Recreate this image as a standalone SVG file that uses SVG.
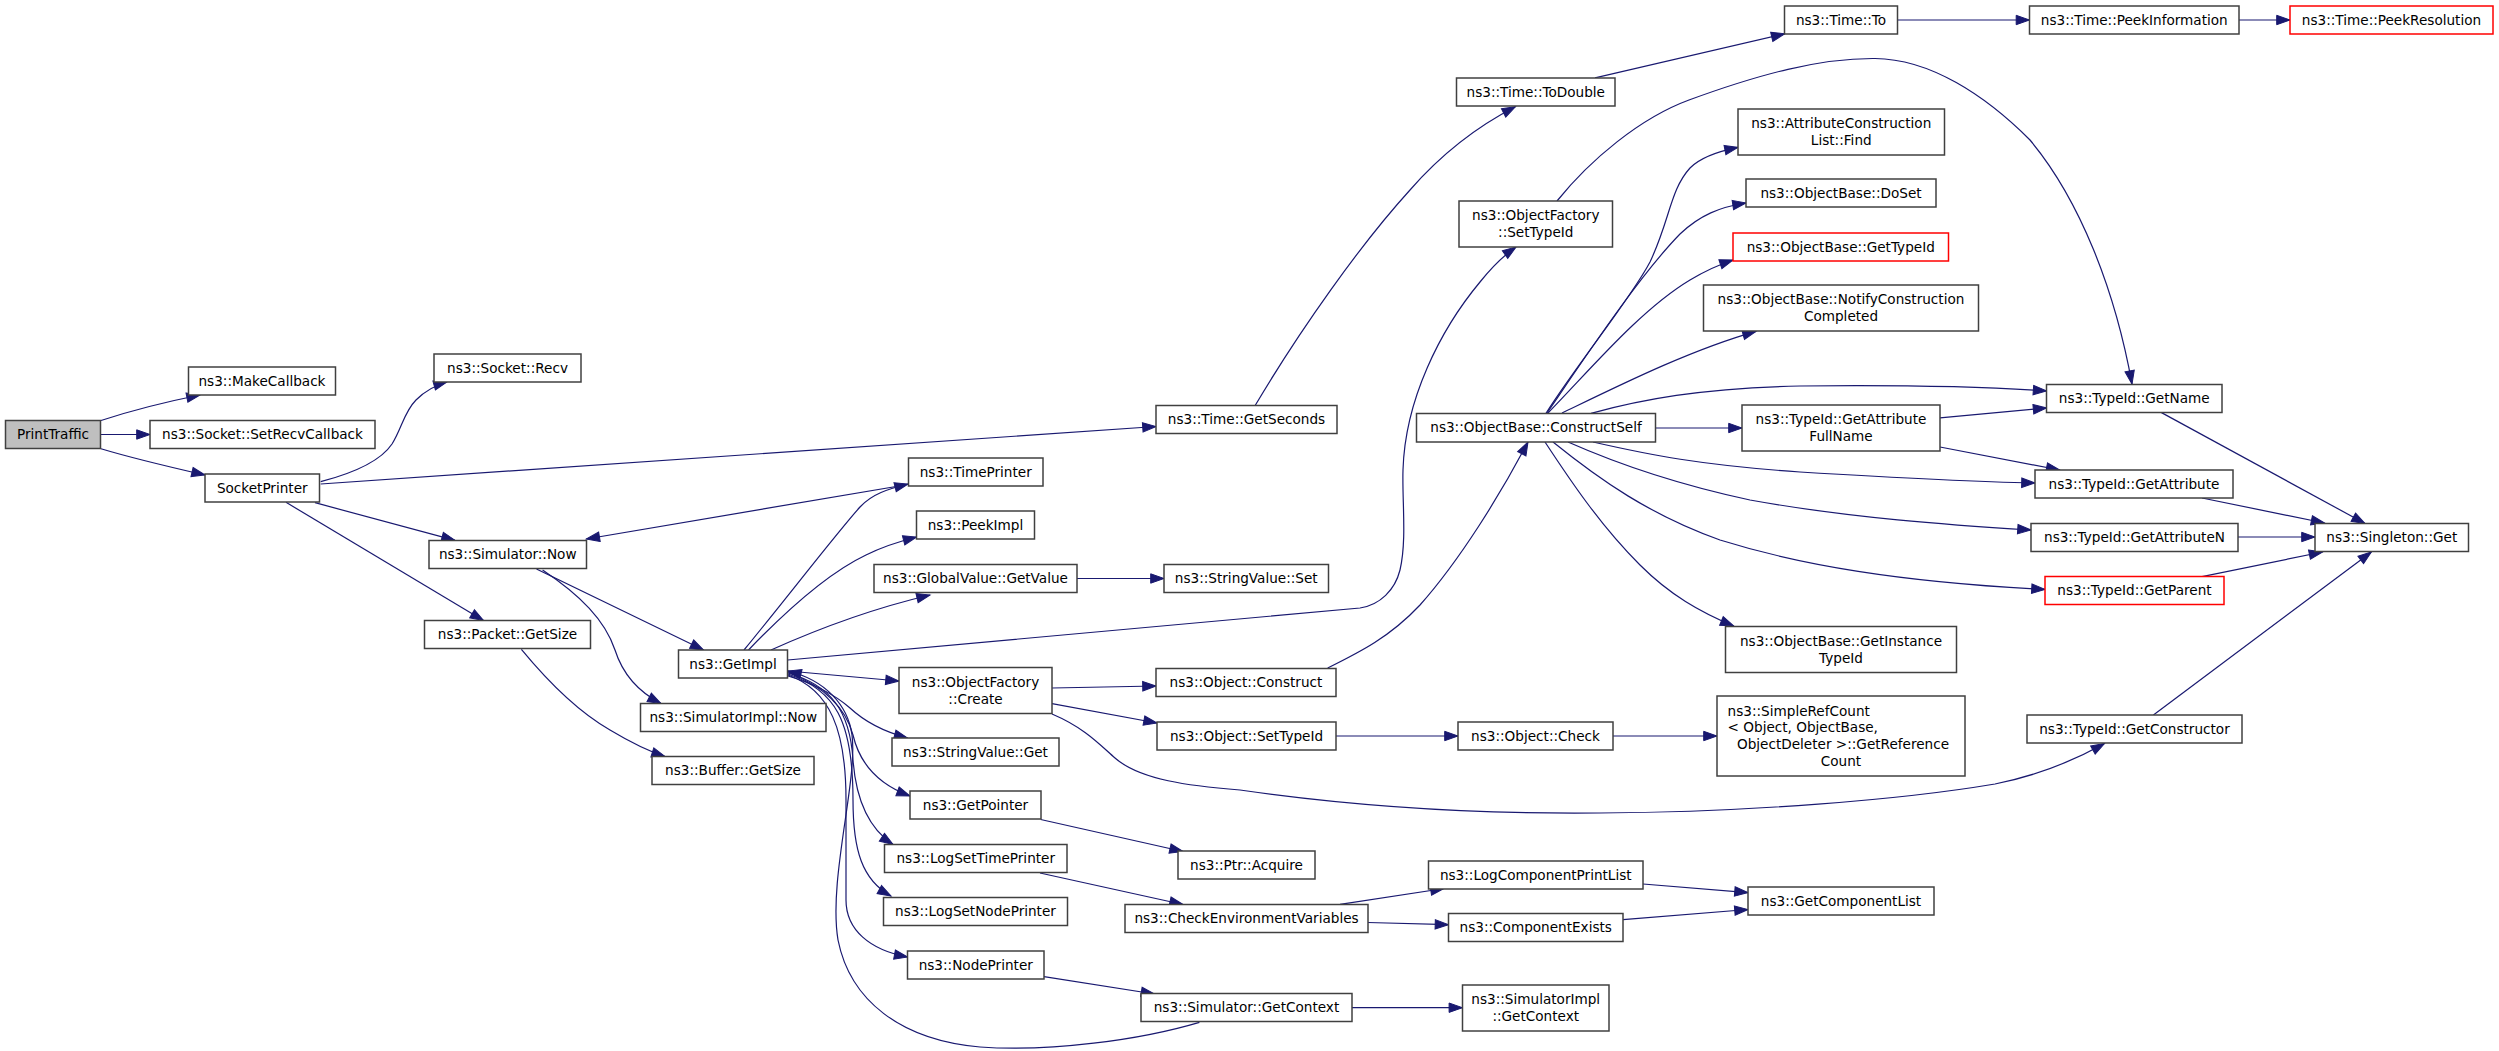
<svg xmlns="http://www.w3.org/2000/svg" width="2499" height="1051" viewBox="0 0 2499 1051">
<defs>
<style>
.node rect{fill:#ffffff;stroke:#404040;stroke-width:1.5}
.node.root rect{fill:#bfbfbf}
.node.trunc rect{stroke:#ff0000}
.node text{font-family:"DejaVu Sans","Liberation Sans",sans-serif;font-size:13.6px;fill:#000000;text-anchor:middle}
.node text.l{text-anchor:start}
.edges path{fill:none;stroke:#191970;stroke-width:1.2;marker-end:url(#ah)}
</style>
<marker id="ah" markerWidth="14" markerHeight="10" refX="13.3" refY="5" orient="auto" markerUnits="userSpaceOnUse" overflow="visible">
<path d="M0,0.3 L13.3,5 L0,9.7 z" fill="#191970" stroke="#191970" stroke-width="1"/>
</marker>
</defs>
<rect x="0" y="0" width="2499" height="1051" fill="#ffffff"/>
<g id="edges" class="edges">
<path d="M101,420.5 C130,411 165,402 200,395"/>
<path d="M101,434.5 L150,434.5"/>
<path d="M101,448.7 C135,459 170,467 205,475"/>
<path d="M320.7,481.7 C350,474 380,462 392,444 C402,428 404,412 416,400 C426,390 436,385 447,382"/>
<path d="M320.7,484 L1156,426.5"/>
<path d="M315,502.7 L455,540.3"/>
<path d="M286,502.3 L483.5,620.6"/>
<path d="M905,485 L586.3,539"/>
<path d="M744,650 C790,594 835,535 860,507 C872,494 888,489 908,484"/>
<path d="M748.5,650 C785,612 828,573 866,555 C880,548 897,542 916.5,537"/>
<path d="M771,650 C820,628 875,608 930,595"/>
<path d="M1077,578.5 L1164,578.5"/>
<path d="M787.7,660 L1360,608 C1380,605 1395,590 1400,570 C1407,540 1402,500 1403,470 C1405,400 1440,330 1480,282 C1492,267 1503,256 1516,247"/>
<path d="M788,671 L899,681"/>
<path d="M788,676 C815,684 835,695 850,708 C865,722 885,732 907.6,738"/>
<path d="M788,672 C820,685 845,705 853,735 C860,765 880,785 910,796"/>
<path d="M788,673 C830,685 850,710 853,760 C856,800 868,828 893,844.5"/>
<path d="M788,674 C835,690 853,720 853,800 C853,850 862,880 891,896"/>
<path d="M788,675 C830,690 846,730 846,800 L846,900 C846,930 870,950 907.6,957"/>
<path d="M1199.4,1022.3 C1140,1040 1050,1052 980,1047 C900,1040 850,1000 838,940 C828,880 858,780 852,735 C848,705 825,680 788,671"/>
<path d="M1052,688 L1156,686"/>
<path d="M1052,703.6 L1157,723"/>
<path d="M1052,714 C1085,728 1100,745 1115,758 C1140,780 1190,786 1240,790 C1380,810 1500,814 1600,813 C1750,812 1900,800 1995,784 C2040,775 2075,760 2104.5,743.5"/>
<path d="M1327.7,668 C1360,652 1390,637 1420,605 C1460,560 1500,495 1528,442"/>
<path d="M1336,736 L1458,736"/>
<path d="M1613,736 L1717,736"/>
<path d="M1040.7,819.5 L1183,851.5"/>
<path d="M1040,873 L1183,904.5"/>
<path d="M1340,904.4 L1444,888.5"/>
<path d="M1367.7,922.5 L1448.5,924.7"/>
<path d="M1643,884 L1748,892.6"/>
<path d="M1623,919.7 L1748,909.5"/>
<path d="M1044,976.6 L1154.5,994"/>
<path d="M1351.8,1007.7 L1462.4,1007.7"/>
<path d="M1255,405.7 C1300,330 1360,245 1410,190 C1445,150 1480,125 1515.4,106.8"/>
<path d="M1595,77.8 L1784.7,33.8"/>
<path d="M1897.5,20 L2029.5,20"/>
<path d="M2239,20 L2290,20"/>
<path d="M1557,201 C1590,160 1640,118 1689,100 C1760,74 1820,58 1875,58.5 C1930,59 1985,95 2030,140 C2080,200 2115,290 2132,384"/>
<path d="M1546,413.3 C1580,360 1630,300 1650,262 C1670,220 1670,190 1690,168 C1700,158 1715,152 1738,147.4"/>
<path d="M1547,413 C1590,350 1640,275 1680,234 C1700,215 1720,207 1746,203"/>
<path d="M1548,413 C1590,370 1640,310 1690,280 C1705,271 1718,265 1733,260"/>
<path d="M1562,413 C1620,385 1690,350 1756,331.3"/>
<path d="M1591,413.3 C1640,400 1700,388 1800,386 C1900,385 1990,387 2046.6,391"/>
<path d="M1655,428 L1742,428"/>
<path d="M1593,442 C1650,455 1700,465 1800,472 C1900,478 1980,482 2035,483"/>
<path d="M1568,442 C1620,465 1680,485 1750,500 C1850,518 1950,525 2031,530"/>
<path d="M1553,442 C1600,480 1650,515 1720,540 C1800,565 1900,582 2045,589.4"/>
<path d="M1545,442 C1570,480 1600,525 1640,565 C1670,595 1700,612 1733.7,626"/>
<path d="M1940,417.8 L2046.6,408"/>
<path d="M1940,447 L2059.7,470"/>
<path d="M2161.5,412.6 L2365,523.5"/>
<path d="M2202,498 L2324.5,523"/>
<path d="M2238,537 L2315,537"/>
<path d="M2202,576.6 L2322.5,552"/>
<path d="M2153.4,715 L2371.4,552"/>
<path d="M536.5,569 L703.6,650"/>
<path d="M542.6,570 C580,595 605,620 615,650 C622,672 635,690 661,703.5"/>
<path d="M521.4,649.4 C545,678 575,710 610,730 C630,742 645,750 665,756.5"/>
</g>
<g id="PrintTraffic" class="node root"><rect x="5.5" y="420.5" width="95" height="28"/><text x="53" y="439.2">PrintTraffic</text></g>
<g id="MakeCallback" class="node"><rect x="188.5" y="367" width="147" height="28"/><text x="262" y="385.7">ns3::MakeCallback</text></g>
<g id="SetRecvCallback" class="node"><rect x="150" y="420.5" width="225" height="28"/><text x="262.5" y="439.2">ns3::Socket::SetRecvCallback</text></g>
<g id="SocketPrinter" class="node"><rect x="205" y="474" width="114.5" height="28"/><text x="262.25" y="492.7">SocketPrinter</text></g>
<g id="SocketRecv" class="node"><rect x="434" y="354" width="147" height="28"/><text x="507.5" y="372.7">ns3::Socket::Recv</text></g>
<g id="SimulatorNow" class="node"><rect x="429" y="540.5" width="157.5" height="28"/><text x="507.75" y="559.2">ns3::Simulator::Now</text></g>
<g id="PacketGetSize" class="node"><rect x="424.5" y="620.5" width="166" height="28"/><text x="507.5" y="639.2">ns3::Packet::GetSize</text></g>
<g id="TimeGetSeconds" class="node"><rect x="1156" y="405.5" width="181" height="28"/><text x="1246.5" y="424.2">ns3::Time::GetSeconds</text></g>
<g id="TimePrinter" class="node"><rect x="908.5" y="458" width="134.5" height="28"/><text x="975.75" y="476.7">ns3::TimePrinter</text></g>
<g id="PeekImpl" class="node"><rect x="916.5" y="511" width="118" height="28"/><text x="975.5" y="529.7">ns3::PeekImpl</text></g>
<g id="TimeToDouble" class="node"><rect x="1456.5" y="78" width="158.5" height="28"/><text x="1535.75" y="96.7">ns3::Time::ToDouble</text></g>
<g id="TimeTo" class="node"><rect x="1784.5" y="6" width="113" height="28"/><text x="1841" y="24.7">ns3::Time::To</text></g>
<g id="PeekInformation" class="node"><rect x="2029.5" y="6" width="209.5" height="28"/><text x="2134.25" y="24.7">ns3::Time::PeekInformation</text></g>
<g id="PeekResolution" class="node trunc"><rect x="2290" y="6" width="203" height="28"/><text x="2391.5" y="24.7">ns3::Time::PeekResolution</text></g>
<g id="ObjectFactorySetTypeId" class="node"><rect x="1459" y="201" width="153.5" height="46"/><text x="1535.75" y="220.35">ns3::ObjectFactory</text><text x="1535.75" y="237.05">::SetTypeId</text></g>
<g id="AttributeConstructionListFind" class="node"><rect x="1738" y="109" width="206.5" height="46"/><text x="1841.25" y="128.35">ns3::AttributeConstruction</text><text x="1841.25" y="145.05">List::Find</text></g>
<g id="ObjectBaseDoSet" class="node"><rect x="1746" y="179" width="190" height="28"/><text x="1841" y="197.7">ns3::ObjectBase::DoSet</text></g>
<g id="ObjectBaseGetTypeId" class="node trunc"><rect x="1733" y="233" width="215.5" height="28"/><text x="1840.75" y="251.7">ns3::ObjectBase::GetTypeId</text></g>
<g id="NotifyConstructionCompleted" class="node"><rect x="1703.5" y="285" width="275" height="46"/><text x="1841" y="304.35">ns3::ObjectBase::NotifyConstruction</text><text x="1841" y="321.05">Completed</text></g>
<g id="ConstructSelf" class="node"><rect x="1416.5" y="413.5" width="239" height="28.5"/><text x="1536" y="432.45">ns3::ObjectBase::ConstructSelf</text></g>
<g id="GetAttributeFullName" class="node"><rect x="1742" y="405" width="198" height="46"/><text x="1841" y="424.35">ns3::TypeId::GetAttribute</text><text x="1841" y="441.05">FullName</text></g>
<g id="TypeIdGetName" class="node"><rect x="2046.5" y="384.5" width="175.5" height="28"/><text x="2134.25" y="403.2">ns3::TypeId::GetName</text></g>
<g id="TypeIdGetAttribute" class="node"><rect x="2035" y="470" width="198" height="28"/><text x="2134" y="488.7">ns3::TypeId::GetAttribute</text></g>
<g id="TypeIdGetAttributeN" class="node"><rect x="2031" y="523.5" width="207" height="28"/><text x="2134.5" y="542.2">ns3::TypeId::GetAttributeN</text></g>
<g id="SingletonGet" class="node"><rect x="2315" y="523.5" width="153.5" height="28"/><text x="2391.75" y="542.2">ns3::Singleton::Get</text></g>
<g id="TypeIdGetParent" class="node trunc"><rect x="2045" y="576.5" width="179" height="28"/><text x="2134.5" y="595.2">ns3::TypeId::GetParent</text></g>
<g id="TypeIdGetConstructor" class="node"><rect x="2027" y="715" width="215" height="28"/><text x="2134.5" y="733.7">ns3::TypeId::GetConstructor</text></g>
<g id="GlobalValueGetValue" class="node"><rect x="874" y="564.5" width="203" height="28"/><text x="975.5" y="583.2">ns3::GlobalValue::GetValue</text></g>
<g id="GetImpl" class="node"><rect x="678.5" y="650" width="109" height="28"/><text x="733" y="668.7">ns3::GetImpl</text></g>
<g id="ObjectFactoryCreate" class="node"><rect x="899" y="667.5" width="153" height="46"/><text x="975.5" y="686.85">ns3::ObjectFactory</text><text x="975.5" y="703.55">::Create</text></g>
<g id="SimulatorImplNow" class="node"><rect x="640.5" y="703.5" width="185.5" height="28"/><text x="733.25" y="722.2">ns3::SimulatorImpl::Now</text></g>
<g id="BufferGetSize" class="node"><rect x="652" y="756.5" width="162" height="28"/><text x="733" y="775.2">ns3::Buffer::GetSize</text></g>
<g id="StringValueGet" class="node"><rect x="892" y="738" width="167" height="28"/><text x="975.5" y="756.7">ns3::StringValue::Get</text></g>
<g id="GetPointer" class="node"><rect x="910" y="791" width="131" height="28"/><text x="975.5" y="809.7">ns3::GetPointer</text></g>
<g id="LogSetTimePrinter" class="node"><rect x="884.5" y="844.5" width="182.5" height="28"/><text x="975.75" y="863.2">ns3::LogSetTimePrinter</text></g>
<g id="LogSetNodePrinter" class="node"><rect x="883.5" y="897.5" width="184" height="28"/><text x="975.5" y="916.2">ns3::LogSetNodePrinter</text></g>
<g id="NodePrinter" class="node"><rect x="907.5" y="951" width="136.5" height="28"/><text x="975.75" y="969.7">ns3::NodePrinter</text></g>
<g id="StringValueSet" class="node"><rect x="1164" y="564.5" width="164.5" height="28"/><text x="1246.25" y="583.2">ns3::StringValue::Set</text></g>
<g id="ObjectConstruct" class="node"><rect x="1156" y="668.5" width="180" height="28"/><text x="1246" y="687.2">ns3::Object::Construct</text></g>
<g id="ObjectSetTypeId" class="node"><rect x="1157" y="722" width="179" height="28"/><text x="1246.5" y="740.7">ns3::Object::SetTypeId</text></g>
<g id="PtrAcquire" class="node"><rect x="1178" y="851" width="137" height="28"/><text x="1246.5" y="869.7">ns3::Ptr::Acquire</text></g>
<g id="CheckEnvironmentVariables" class="node"><rect x="1125" y="904.5" width="243" height="28"/><text x="1246.5" y="923.2">ns3::CheckEnvironmentVariables</text></g>
<g id="SimulatorGetContext" class="node"><rect x="1141" y="993.5" width="211" height="28"/><text x="1246.5" y="1012.2">ns3::Simulator::GetContext</text></g>
<g id="GetInstanceTypeId" class="node"><rect x="1725.5" y="626.5" width="231" height="46"/><text x="1841" y="645.85">ns3::ObjectBase::GetInstance</text><text x="1841" y="662.55">TypeId</text></g>
<g id="ObjectCheck" class="node"><rect x="1458" y="722" width="155" height="28"/><text x="1535.5" y="740.7">ns3::Object::Check</text></g>
<g id="SimpleRefCountGetReferenceCount" class="node"><rect x="1717" y="696" width="248" height="80"/><text class="l" x="1727.6" y="715.65">ns3::SimpleRefCount</text><text class="l" x="1727.6" y="732.35">&lt; Object, ObjectBase,</text><text x="1843" y="749.05">ObjectDeleter &gt;::GetReference</text><text x="1841" y="765.75">Count</text></g>
<g id="LogComponentPrintList" class="node"><rect x="1428.5" y="861" width="214.5" height="28"/><text x="1535.75" y="879.7">ns3::LogComponentPrintList</text></g>
<g id="ComponentExists" class="node"><rect x="1448.5" y="913.5" width="174.5" height="28"/><text x="1535.75" y="932.2">ns3::ComponentExists</text></g>
<g id="GetComponentList" class="node"><rect x="1748" y="887" width="186" height="28"/><text x="1841" y="905.7">ns3::GetComponentList</text></g>
<g id="SimulatorImplGetContext" class="node"><rect x="1462.5" y="985" width="146.5" height="46"/><text x="1535.75" y="1004.35">ns3::SimulatorImpl</text><text x="1535.75" y="1021.05">::GetContext</text></g>
</svg>
